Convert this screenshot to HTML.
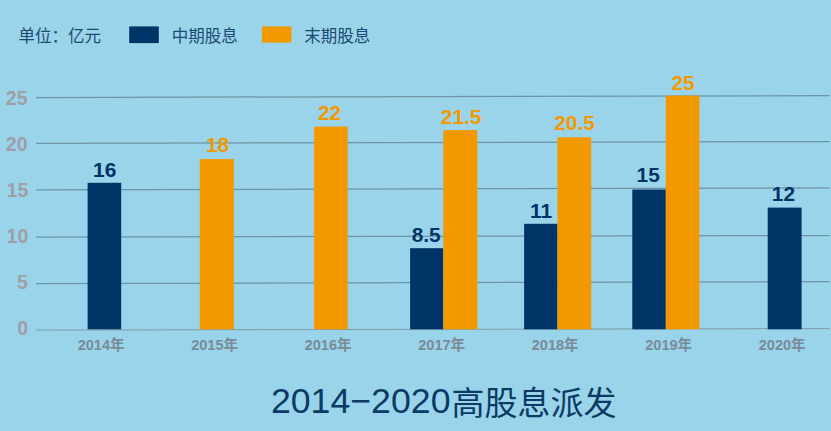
<!DOCTYPE html>
<html lang="zh-CN"><head><meta charset="utf-8"><title>2014-2020高股息派发</title>
<style>
html,body{margin:0;padding:0}
body{width:831px;height:431px;overflow:hidden;background:#9ad4ea;position:relative;font-family:"Liberation Sans","Noto Sans CJK SC",sans-serif}
svg{position:absolute;left:0;top:0;display:block;filter:blur(0.4px)}
.t{position:absolute;white-space:nowrap;line-height:1;font-family:"Liberation Sans","Noto Sans CJK SC",sans-serif}
</style></head><body>
<svg width="831" height="431" viewBox="0 0 831 431">
<g stroke="#6c94a4" stroke-width="1.25">
<line x1="36.2" y1="97.5" x2="829.6" y2="95.7"/>
<line x1="36.2" y1="143.4" x2="829.6" y2="141.5"/>
<line x1="36.2" y1="189.9" x2="829.6" y2="187.9"/>
<line x1="36.2" y1="237.0" x2="829.6" y2="235.6"/>
<line x1="36.2" y1="283.6" x2="829.6" y2="281.6"/>
</g>
<line x1="36.2" y1="330.1" x2="829.6" y2="328.6" stroke="#7b9ca8" stroke-width="1.0"/>
<g fill="#003366">
<rect x="87.6" y="182.8" width="33.6" height="146.5"/>
<rect x="410.1" y="248.2" width="33.2" height="81.1"/>
<rect x="524.1" y="223.8" width="33.4" height="105.5"/>
<rect x="632.3" y="189.5" width="33.5" height="139.8"/>
<rect x="767.7" y="207.6" width="33.9" height="121.7"/>
<rect x="129.2" y="26.4" width="29.6" height="16.7"/>
</g>
<g fill="#f39900">
<rect x="199.8" y="159.1" width="34.1" height="170.2"/>
<rect x="314.1" y="126.6" width="33.6" height="202.7"/>
<rect x="443.3" y="130.1" width="34.0" height="199.2"/>
<rect x="557.5" y="137.3" width="33.7" height="192.0"/>
<rect x="665.8" y="95.6" width="33.6" height="233.7"/>
<rect x="261.9" y="26.4" width="29.6" height="16.2"/>
</g>
</svg>
<div class="t" style="left:5.8px;top:89.2px;font-size:19.5px;font-weight:bold;color:#9e9fa7">25</div>
<div class="t" style="left:5.8px;top:135.1px;font-size:19.5px;font-weight:bold;color:#9e9fa7">20</div>
<div class="t" style="left:6.6px;top:181.0px;font-size:19.5px;font-weight:bold;color:#9e9fa7">15</div>
<div class="t" style="left:6.6px;top:226.9px;font-size:19.5px;font-weight:bold;color:#9e9fa7">10</div>
<div class="t" style="left:17.1px;top:272.8px;font-size:19.5px;font-weight:bold;color:#9e9fa7">5</div>
<div class="t" style="left:17.2px;top:318.7px;font-size:19.5px;font-weight:bold;color:#9e9fa7">0</div>
<div class="t" style="left:93.1px;top:159.8px;font-size:20.9px;font-weight:bold;color:#003366">16</div>
<div class="t" style="left:205.9px;top:135.0px;font-size:20.9px;font-weight:bold;color:#f39900">18</div>
<div class="t" style="left:318.0px;top:103.4px;font-size:20.9px;font-weight:bold;color:#f39900">22</div>
<div class="t" style="left:411.7px;top:225.1px;font-size:20.9px;font-weight:bold;color:#003366">8.5</div>
<div class="t" style="left:440.8px;top:106.6px;font-size:20.9px;font-weight:bold;color:#f39900">21.5</div>
<div class="t" style="left:530.0px;top:200.5px;font-size:20.9px;font-weight:bold;color:#003366">11</div>
<div class="t" style="left:554.2px;top:113.4px;font-size:20.9px;font-weight:bold;color:#f39900">20.5</div>
<div class="t" style="left:636.6px;top:165.4px;font-size:20.9px;font-weight:bold;color:#003366">15</div>
<div class="t" style="left:671.5px;top:73.2px;font-size:20.9px;font-weight:bold;color:#f39900">25</div>
<div class="t" style="left:771.8px;top:183.8px;font-size:20.9px;font-weight:bold;color:#003366">12</div>
<div class="t" style="left:77.7px;top:337.9px;font-size:14.5px;font-weight:bold;color:#798b97">2014年</div>
<div class="t" style="left:191.2px;top:337.9px;font-size:14.5px;font-weight:bold;color:#798b97">2015年</div>
<div class="t" style="left:304.7px;top:337.9px;font-size:14.5px;font-weight:bold;color:#798b97">2016年</div>
<div class="t" style="left:418.3px;top:337.9px;font-size:14.5px;font-weight:bold;color:#798b97">2017年</div>
<div class="t" style="left:531.8px;top:337.9px;font-size:14.5px;font-weight:bold;color:#798b97">2018年</div>
<div class="t" style="left:645.3px;top:337.9px;font-size:14.5px;font-weight:bold;color:#798b97">2019年</div>
<div class="t" style="left:758.8px;top:337.9px;font-size:14.5px;font-weight:bold;color:#798b97">2020年</div>
<div class="t" style="left:18.4px;top:27.6px;font-size:16.5px;color:#1b4a72">单位：亿元</div>
<div class="t" style="left:171.7px;top:27.6px;font-size:16.5px;color:#1b4a72">中期股息</div>
<div class="t" style="left:304.3px;top:27.6px;font-size:16.5px;color:#1b4a72">末期股息</div>
<div class="t" style="left:270.9px;top:384.2px;font-size:35.7px;color:#0b3a65">2014−2020</div>
<div class="t" style="left:451.5px;top:386.7px;font-size:33.0px;color:#0b3a65">高股息派发</div>
</body></html>
